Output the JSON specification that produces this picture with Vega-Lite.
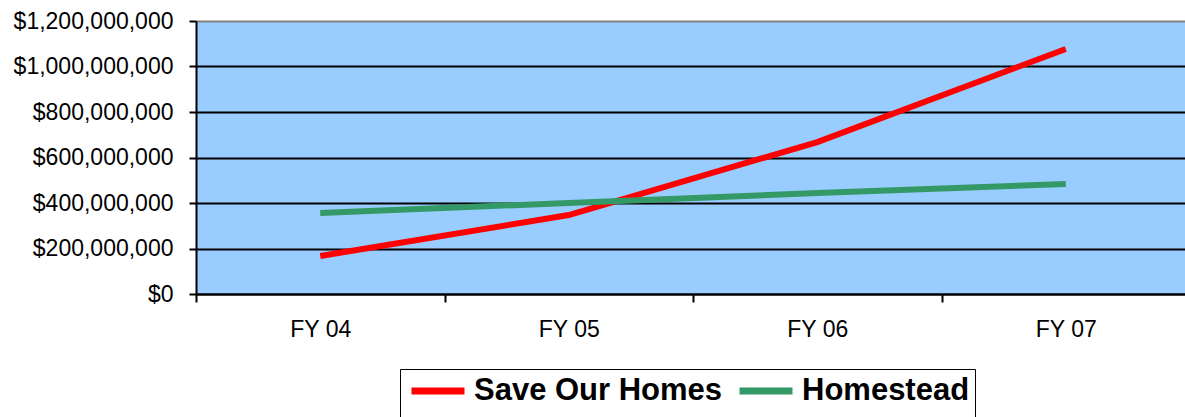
{
  "$schema": "https://vega.github.io/schema/vega-lite/v6.json",
  "autosize": {"type": "none"},
  "padding": {"left": 196, "top": 21, "right": 0, "bottom": 123},
  "width": 989,
  "height": 273,
  "background": "white",
  "config": {
    "view": {"fill": "#99CCFF", "stroke": null},
    "font": "Liberation Sans"
  },
  "data": {
    "values": [
      {"year": "FY 04", "series": "Save Our Homes", "value": 167000000},
      {"year": "FY 05", "series": "Save Our Homes", "value": 347000000},
      {"year": "FY 06", "series": "Save Our Homes", "value": 668000000},
      {"year": "FY 07", "series": "Save Our Homes", "value": 1077000000},
      {"year": "FY 04", "series": "Homestead", "value": 356000000},
      {"year": "FY 05", "series": "Homestead", "value": 400000000},
      {"year": "FY 06", "series": "Homestead", "value": 444000000},
      {"year": "FY 07", "series": "Homestead", "value": 484000000}
    ]
  },
  "mark": {"type": "line", "strokeWidth": 6, "strokeCap": "butt", "strokeJoin": "miter"},
  "encoding": {
    "x": {
      "field": "year",
      "type": "ordinal",
      "scale": {"type": "band", "range": [0, 994], "paddingInner": 0, "paddingOuter": 0},
      "axis": {
        "title": null,
        "labelAngle": 0,
        "labelFont": "Liberation Sans",
        "labelFontSize": 23,
        "labelColor": "black",
        "labelPadding": 16,
        "tickBand": "extent",
        "tickSize": 8,
        "tickColor": "black",
        "tickWidth": 2,
        "domainColor": "black",
        "domainWidth": 2,
        "grid": false
      }
    },
    "y": {
      "field": "value",
      "type": "quantitative",
      "scale": {"domain": [0, 1200000000], "nice": false},
      "axis": {
        "title": null,
        "values": [0, 200000000, 400000000, 600000000, 800000000, 1000000000, 1200000000],
        "format": "$,.0f",
        "labelFont": "Liberation Sans",
        "labelFontSize": 23,
        "labelColor": "black",
        "labelPadding": 16,
        "tickSize": 7,
        "tickColor": "black",
        "tickWidth": 2,
        "domainColor": "black",
        "domainWidth": 2,
        "grid": true,
        "gridColor": {"condition": {"test": "datum.value === 1200000000", "value": "#808080"}, "value": "black"},
        "gridWidth": 2,
        "gridOpacity": 1
      }
    },
    "color": {
      "field": "series",
      "type": "nominal",
      "scale": {"domain": ["Save Our Homes", "Homestead"], "range": ["#FF0000", "#339966"]},
      "legend": {
        "title": " ",
        "titleOrient": "bottom",
        "titleFontSize": 12,
        "titlePadding": 4,
        "orient": "none",
        "legendX": 204,
        "legendY": 348,
        "direction": "horizontal",
        "strokeColor": "black",
        "fillColor": "white",
        "padding": 5,
        "symbolType": "M-2,0H2",
        "symbolSize": 702,
        "symbolStrokeWidth": 7,
        "symbolOffset": 16,
        "labelFont": "Liberation Sans",
        "labelFontWeight": "bold",
        "labelFontSize": 31,
        "labelColor": "black",
        "labelOffset": 19,
        "columnPadding": 2,
        "labelLimit": 0
      }
    }
  }
}
